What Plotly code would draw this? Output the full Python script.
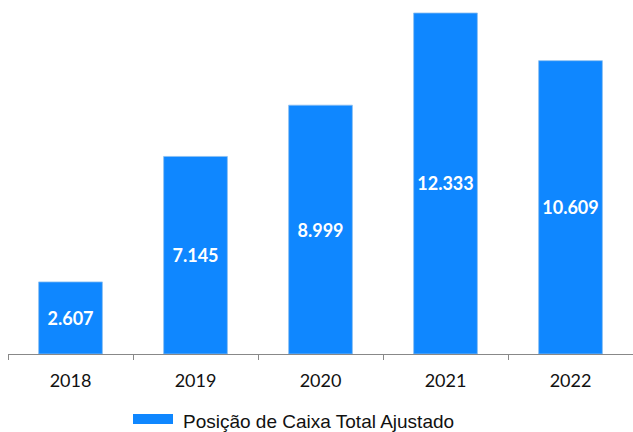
import plotly.graph_objects as go

years = ["2018", "2019", "2020", "2021", "2022"]
values = [2607, 7145, 8999, 12333, 10609]
labels = ["2.607", "7.145", "8.999", "12.333", "10.609"]
series_name = "Posição de Caixa Total Ajustado"
bar_color = "#0F87FF"

fig = go.Figure()
fig.add_trace(go.Bar(
    x=years, y=values, name=series_name,
    text=labels, textposition="inside", insidetextanchor="middle",
    textfont=dict(family="Lato", size=18, color="white", weight="bold"),
    marker=dict(color=bar_color, line=dict(color="#8CBFF0", width=0.8)),
    width=0.51, showlegend=False, hoverinfo="skip",
))
# legend swatch and label (drawn so the swatch can be a wide rectangle like the reference)
fig.add_shape(type="rect", xref="paper", yref="paper",
              x0=(133 - 8) / 625, x1=(173 - 8) / 625,
              y0=-(414 - 354) / 349, y1=-(424 - 354) / 349,
              fillcolor=bar_color, line=dict(width=0))
fig.add_annotation(text=series_name, xref="paper", yref="paper",
                   x=(181 - 8) / 625, xanchor="left",
                   y=-(421 - 354) / 349, yanchor="middle", showarrow=False,
                   font=dict(family="Liberation Sans", size=19, color="#111"))
fig.update_layout(
    width=633, height=432,
    margin=dict(l=8, r=0, t=5, b=78, autoexpand=False),
    plot_bgcolor="white", paper_bgcolor="white",
    showlegend=False,
    xaxis=dict(showline=True, linecolor="#888", linewidth=1, ticks="outside",
               tickson="boundaries", ticklen=5, tickcolor="#888",
               range=[-0.5, 4.5], automargin=False, ticklabelstandoff=10,
               tickfont=dict(family="Lato", size=18, color="#111"), showgrid=False),
    yaxis=dict(visible=False, range=[0, 12622], showgrid=False, automargin=False),
)
fig.write_html("out.html", config={"displayModeBar": False, "staticPlot": True},
               post_script="document.body.style.margin='0';document.body.style.overflow='hidden';")
